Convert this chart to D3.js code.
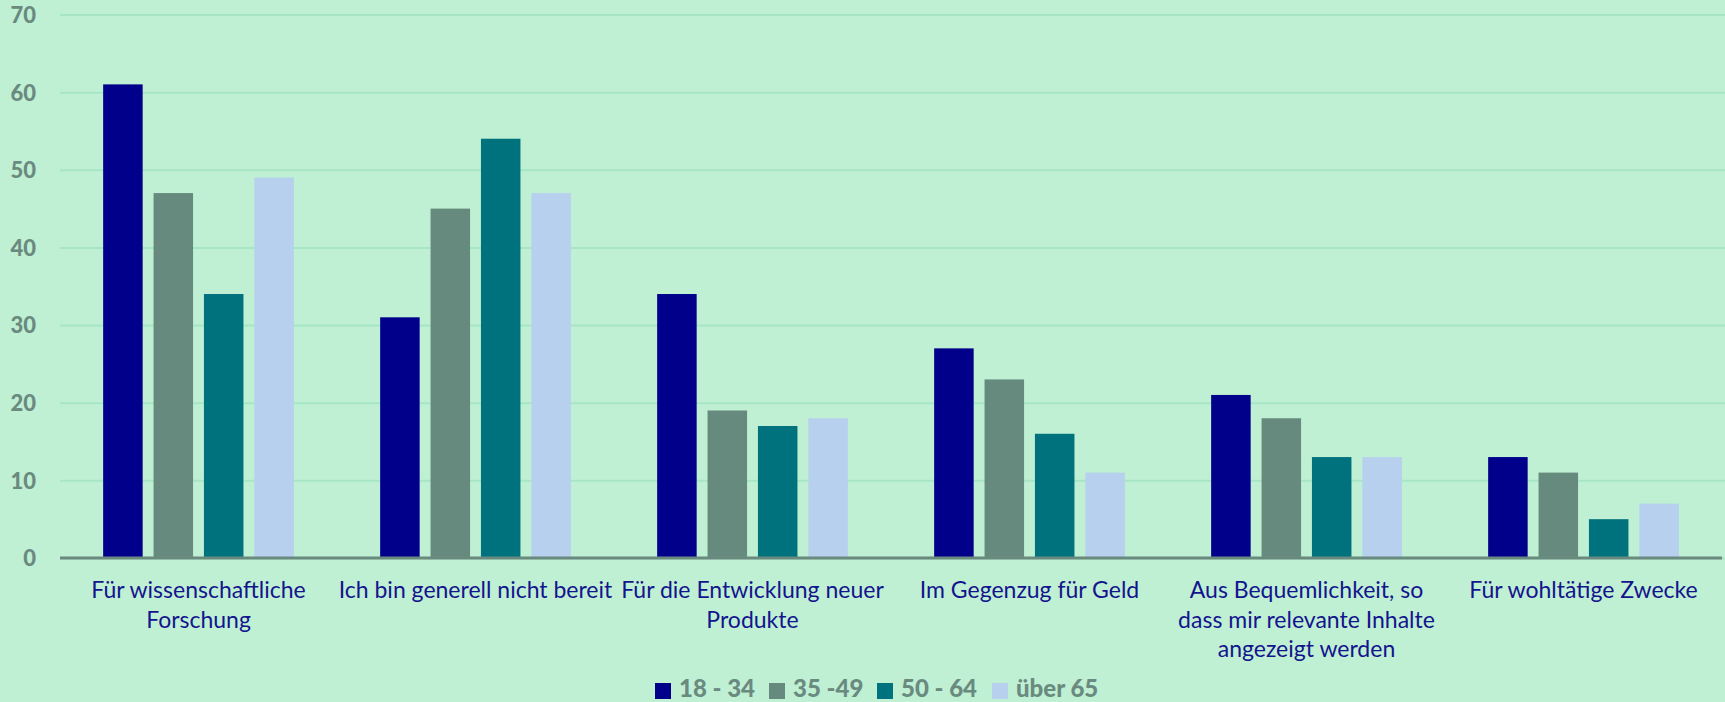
<!DOCTYPE html>
<html>
<head>
<meta charset="utf-8">
<script src="https://cdn.jsdelivr.net/npm/d3@7"></script>
<style>
  html, body { margin: 0; padding: 0; background: #bff0d3; }
  svg { display: block; }
</style>
</head>
<body>
<div id="chart"></div>
<script>
// Data
const categories = [
  ['Für wissenschaftliche', 'Forschung'],
  ['Ich bin generell nicht bereit'],
  ['Für die Entwicklung neuer', 'Produkte'],
  ['Im Gegenzug für Geld'],
  ['Aus Bequemlichkeit, so', 'dass mir relevante Inhalte', 'angezeigt werden'],
  ['Für wohltätige Zwecke']
]
const seriesNames = ['18 - 34', '35 -49', '50 - 64', 'über 65']
const age18to34 = [61, 31, 34, 27, 21, 13]
const age35to49 = [47, 45, 19, 23, 18, 11]
const age50to64 = [34, 54, 17, 16, 13, 5]
const ageOver65 = [49, 47, 18, 11, 13, 7]
const yTicks = [0, 10, 20, 30, 40, 50, 60, 70]

const seriesValues = [age18to34, age35to49, age50to64, ageOver65]
const colors = ['#00008b', '#678a7e', '#00727e', '#b7d0ee']

const width = 1725
const height = 702
const margins = { left: 60, right: 3, top: 14, bottom: 144 }

const catKeys = categories.map((c, i) => i)

const x0 = d3.scaleBand()
  .domain(catKeys)
  .range([margins.left, width - margins.right])

const groupWidth = 190.7
const x1 = d3.scaleBand()
  .domain(seriesNames)
  .range([(x0.bandwidth() - groupWidth) / 2, (x0.bandwidth() + groupWidth) / 2])
  .paddingInner(0.216)

const y = d3.scaleLinear()
  .domain([0, 70])
  .range([height - margins.bottom, margins.top + 0.5])

const svg = d3.select('#chart').append('svg')
  .attr('width', width)
  .attr('height', height)
  .attr('viewBox', [0, 0, width, height].join(' '))

svg.append('rect')
  .attr('width', width)
  .attr('height', height)
  .attr('fill', '#bff0d3')

// Gridlines + y labels
const yAxis = d3.axisLeft(y)
  .tickValues(yTicks)
  .tickSize(-(width - margins.left))
  .tickPadding(24)

const yg = svg.append('g')
  .attr('transform', `translate(${margins.left}, 0)`)
  .call(yAxis)

yg.select('.domain').remove()
yg.selectAll('.tick line')
  .attr('stroke', '#a6e6c6')
  .attr('stroke-width', 2)
yg.selectAll('.tick text')
  .attr('fill', '#6a8a80')
  .style('font-family', 'Lato, sans-serif')
  .style('font-weight', '900')
  .style('font-size', '22px')
  .attr('dy', '0.36em')

// Bars
const rows = catKeys.map(i => ({ cat: i, values: seriesNames.map((s, j) => ({ key: s, idx: j, value: seriesValues[j][i] })) }))

const groups = svg.append('g')
  .selectAll('g')
  .data(rows)
  .join('g')
  .attr('transform', d => `translate(${x0(d.cat)}, 0)`)

groups.selectAll('rect')
  .data(d => d.values)
  .join('rect')
  .attr('x', d => x1(d.key))
  .attr('y', d => y(d.value))
  .attr('width', x1.bandwidth())
  .attr('height', d => y(0) - y(d.value))
  .attr('fill', d => colors[d.idx])

// Baseline
svg.append('line')
  .attr('x1', margins.left)
  .attr('x2', width - margins.right)
  .attr('y1', y(0))
  .attr('y2', y(0))
  .attr('stroke', '#6a8a80')
  .attr('stroke-width', 3)

// X labels
const xg = svg.append('g')
const labels = xg.selectAll('text')
  .data(categories)
  .join('text')
  .attr('x', (d, i) => x0(i) + x0.bandwidth() / 2)
  .attr('y', y(0) + 40)
  .attr('text-anchor', 'middle')
  .attr('fill', '#14148e')
  .style('font-family', 'Lato, sans-serif')
  .style('font-size', '23px')

labels.selectAll('tspan')
  .data(d => d)
  .join('tspan')
  .attr('x', function () { return d3.select(this.parentNode).attr('x') })
  .attr('dy', (d, i) => i === 0 ? 0 : 29.5)
  .text(d => d)

// Legend
const legendX = [655, 769, 877, 992]
const legend = svg.append('g')
  .attr('transform', 'translate(0, 697)')

const items = legend.selectAll('g')
  .data(seriesNames)
  .join('g')
  .attr('transform', (d, i) => `translate(${legendX[i]}, 0)`)

items.append('rect')
  .attr('x', 0)
  .attr('y', -14)
  .attr('width', 16)
  .attr('height', 16)
  .attr('fill', (d, i) => colors[i])

items.append('text')
  .attr('x', 24)
  .attr('y', 0)
  .attr('fill', '#6a8a80')
  .style('font-family', 'Lato, sans-serif')
  .style('font-weight', '900')
  .style('font-size', '24px')
  .text(d => d)
</script>
</body>
</html>
